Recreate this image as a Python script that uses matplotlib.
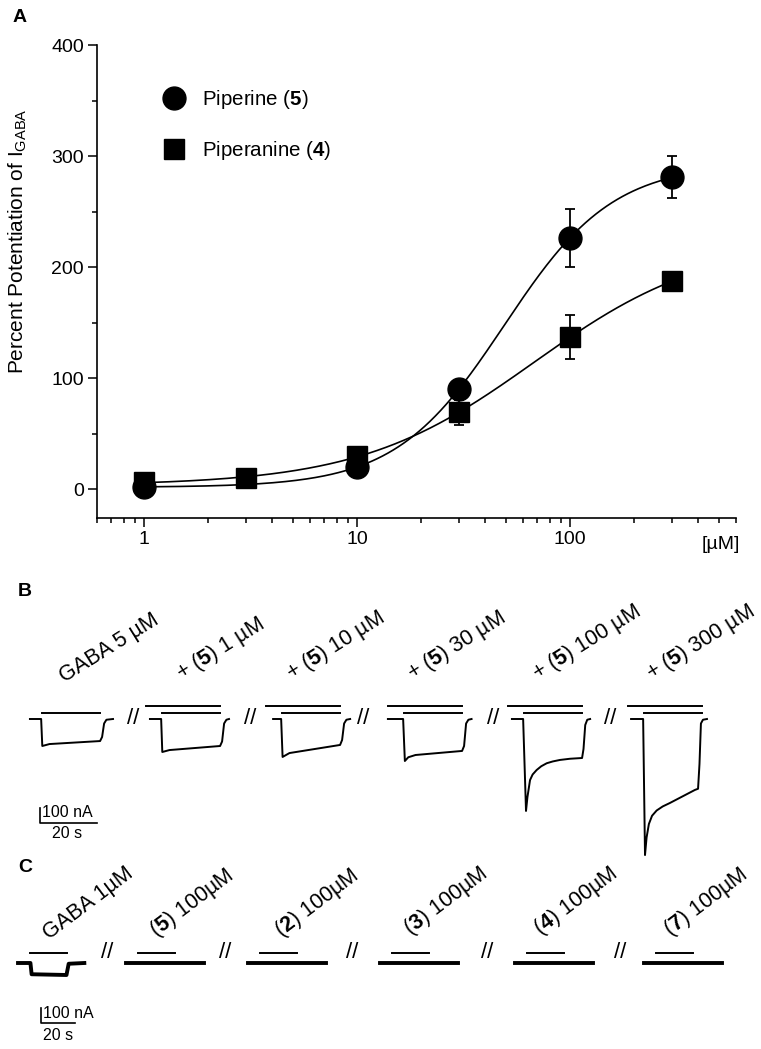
import numpy as np
import matplotlib.pyplot as plt
from matplotlib.lines import Line2D

plt.rcParams['font.family'] = ['Liberation Sans', 'DejaVu Sans']
plt.rcParams['mathtext.fontset'] = 'custom'
plt.rcParams['mathtext.rm'] = 'Liberation Sans'
plt.rcParams['mathtext.bf'] = 'Liberation Sans:bold'
plt.rcParams['mathtext.it'] = 'Liberation Sans:italic'

W, H = 761, 1049

# ---- panel A: concentration-response ----
conc_pip = [1, 10, 30, 100, 300]
pip_mean = [2, 20, 90, 226, 281]
pip_sem = [0, 0, 0, 26, 19]
conc_ppa = [1, 3, 10, 30, 100, 300]
ppa_mean = [6, 10, 30, 69, 137, 187]
ppa_sem = [0, 0, 3, 11, 20, 7]

# ---- panel B: traces (t in s from GABA onset, I in nA from baseline) ----
b_labels = ['GABA 5 µM', r'+ ($\mathbf{5}$) 1 µM', r'+ ($\mathbf{5}$) 10 µM',
            r'+ ($\mathbf{5}$) 30 µM', r'+ ($\mathbf{5}$) 100 µM', r'+ ($\mathbf{5}$) 300 µM']
b_t = [
    [-4.2, -0.3, 0.1, 2.6, 20.2, 20.9, 21.6, 22.4, 24.7],
    [-4.2, -0.3, 0.1, 2.6, 20.2, 20.9, 21.6, 22.4, 23.3],
    [-3.1, -0.3, 0.2, 2.6, 20.2, 20.9, 21.6, 22.4, 23.7],
    [-5.6, -0.3, 0.3, 1.5, 4.0, 20.2, 20.9, 21.6, 22.4, 23.5],
    [-4.2, -0.3, 0.7, 1.2, 2.1, 3.0, 4.4, 6.0, 7.9, 10, 12.5, 16, 20.2, 20.7, 21.3, 22.0, 23.0],
    [-4.5, -0.3, 0.35, 0.9, 1.7, 2.8, 4.4, 6.5, 9.0, 13, 17.7, 18.8, 19.3, 19.8, 20.5, 21.9],
]
b_i = [
    [0, 0, -180, -167, -147, -120, -30, -5, 0],
    [0, 0, -220, -207, -180, -150, -30, -5, 0],
    [0, 0, -253, -227, -173, -140, -30, -5, 0],
    [0, 0, -280, -255, -240, -213, -180, -30, -5, 0],
    [0, 0, -613, -520, -407, -370, -340, -315, -295, -283, -273, -265, -260, -200, -40, -5, 0],
    [0, 0, -907, -790, -700, -645, -610, -583, -560, -520, -473, -465, -300, -30, -5, 0],
]
gaba_dur_b = 20.2
preapp_b = 5.6

# ---- panel C ----
c_labels = ['GABA 1µM', r'($\mathbf{5}$) 100µM', r'($\mathbf{2}$) 100µM',
            r'($\mathbf{3}$) 100µM', r'($\mathbf{4}$) 100µM', r'($\mathbf{7}$) 100µM']
c_t = [[-7, 0.3, 1.0, 21.5, 22.8, 32]] + [[-7, 39]] * 5
c_i = [[0, 0, -75, -80, -5, 0]] + [[0, 0]] * 5
app_dur_c = 22


def hill_fit(x, y):
    x = np.asarray(x, float)
    y = np.asarray(y, float)
    best = (np.inf, None)
    for ec in np.logspace(0.5, 2.7, 221):
        for n in np.arange(0.6, 3.01, 0.02):
            f = 1 / (1 + (ec / x) ** n)
            A = np.column_stack([1 - f, f])
            coef = np.linalg.lstsq(A, y, rcond=None)[0]
            r = np.sum((A @ coef - y) ** 2)
            if r < best[0]:
                best = (r, (coef[0], coef[1], ec, n))
    return best[1]


def hill(x, p):
    bot, top, ec, n = p
    return bot + (top - bot) / (1 + (ec / x) ** n)


fig = plt.figure(figsize=(W / 100, H / 100), dpi=100)


def ftext(x, y, s, **kw):
    fig.text(x / W, 1 - y / H, s, **kw)


# panel A
ax = fig.add_axes([97 / W, 1 - 518 / H, (736 - 97) / W, (518 - 45) / H])
xs = np.logspace(0, np.log10(300), 300)
ax.plot(xs, hill(xs, hill_fit(conc_pip, pip_mean)), color='k', lw=1.2, zorder=2)
ax.plot(xs, hill(xs, hill_fit(conc_ppa, ppa_mean)), color='k', lw=1.2, zorder=2)
ax.errorbar(conc_pip, pip_mean, yerr=pip_sem, fmt='none', ecolor='k', elinewidth=1.3,
            capsize=3.5, capthick=1.3, zorder=3)
ax.errorbar(conc_ppa, ppa_mean, yerr=ppa_sem, fmt='none', ecolor='k', elinewidth=1.3,
            capsize=3.5, capthick=1.3, zorder=3)
ax.plot(conc_ppa, ppa_mean, 's', color='k', ms=14.5, zorder=4)
ax.plot(conc_pip, pip_mean, 'o', color='k', ms=16.5, zorder=5)
ax.set_xscale('log')
ax.set_xlim(0.6, 600)
ax.set_ylim(-26.1, 400)
ax.set_yticks([0, 100, 200, 300, 400])
ax.set_yticks([50, 150, 250, 350], minor=True)
ax.set_xticks([1, 10, 100])
ax.set_xticklabels(['1', '10', '100'])
for s in ['top', 'right']:
    ax.spines[s].set_visible(False)
for s in ['left', 'bottom']:
    ax.spines[s].set_linewidth(1.2)
ax.tick_params(which='major', length=6.5, width=1.1, labelsize=14, direction='out', pad=3)
ax.tick_params(which='minor', length=3.5, width=1.1, direction='out')
ax.set_ylabel(r'Percent Potentiation of I$_{\mathrm{GABA}}$', fontsize=15)
ax.yaxis.set_label_coords(-0.106, 0.586)
ax.text(0.977, -0.055, '[µM]', transform=ax.transAxes, ha='center', va='center', fontsize=14)
handles = [Line2D([], [], ls='none', marker='o', color='k', ms=16.5),
           Line2D([], [], ls='none', marker='s', color='k', ms=14.5)]
ax.legend(handles, [r'Piperine ($\mathbf{5}$)', r'Piperanine ($\mathbf{4}$)'],
          loc='upper left', bbox_to_anchor=(0.101, 0.909), frameon=False, fontsize=14.8,
          handlelength=1.2, handletextpad=0.76, labelspacing=1.35, borderpad=0, borderaxespad=0)

# panel B
pxs_b, px_na = 2.875, 0.15
b_onset = [14.61, 56.35, 98.09, 140.52, 182.26, 224.0]
axb = fig.add_axes([0, 1 - 870 / H, 1, 190 / H])
axb.set_xlim(0, W / pxs_b)
axb.set_ylim(-(870 - 719) / px_na, (719 - 680) / px_na)
axb.axis('off')
for k, on in enumerate(b_onset):
    axb.plot(on + np.array(b_t[k]), b_i[k], color='k', lw=1.4, solid_joinstyle='round')
    if k == 0:
        axb.plot([on, on + gaba_dur_b], [40, 40], color='k', lw=1.4)
    else:
        axb.plot([on - preapp_b, on + gaba_dur_b], [87, 87], color='k', lw=1.4)
        axb.plot([on, on + gaba_dur_b], [37, 37], color='k', lw=1.4)
sx, sy = 13.9, -693
axb.plot([sx, sx, sx + 20], [sy + 100, sy, sy], color='k', lw=1.2)
axb.text(sx + 0.7, sy + 67, '100 nA', ha='left', va='center', fontsize=11.5)
axb.text(sx + 9.4, sy - 67, '20 s', ha='center', va='center', fontsize=11.5)

b_lab_xy = [(64, 683), (181, 680), (291, 680), (412, 680), (537, 680), (651, 680)]
for (x, y), s in zip(b_lab_xy, b_labels):
    ftext(x, y, s, rotation=32, rotation_mode='anchor', ha='left', va='baseline', fontsize=15.5)
for x in [133, 250, 363, 493, 610]:
    ftext(x, 719, '//', ha='center', va='center', fontsize=16)

# panel C
pxs_c = 1.7
c_onset = [17.6, 81.2, 152.9, 230.6, 310.0, 385.9]
axc = fig.add_axes([0, 0, 1, 124 / H])
axc.set_xlim(0, W / pxs_c)
axc.set_ylim(-(1049 - 963) / px_na, (963 - 925) / px_na)
axc.axis('off')
for k, on in enumerate(c_onset):
    axc.plot(on + np.array(c_t[k]), c_i[k], color='k', lw=2.8, solid_joinstyle='round')
    axc.plot([on, on + app_dur_c], [67, 67], color='k', lw=1.4)
sx, sy = 24.1, -400
axc.plot([sx, sx, sx + 20], [sy + 100, sy, sy], color='k', lw=1.2)
axc.text(sx + 1.2, sy + 60, '100 nA', ha='left', va='center', fontsize=11.5)
axc.text(sx + 10, sy - 80, '20 s', ha='center', va='center', fontsize=11.5)

c_lab_xy = [(49, 940), (156, 937), (281, 937), (410, 935), (540, 935), (670, 936)]
for (x, y), s in zip(c_lab_xy, c_labels):
    ftext(x, y, s, rotation=37, rotation_mode='anchor', ha='left', va='baseline', fontsize=15.5)
for x in [107, 225, 352, 487, 620]:
    ftext(x, 953, '//', ha='center', va='center', fontsize=16)

ftext(20, 18, 'A', ha='center', va='center', fontsize=14, fontweight='bold')
ftext(25, 592, 'B', ha='center', va='center', fontsize=14, fontweight='bold')
ftext(25, 867, 'C', ha='center', va='center', fontsize=14, fontweight='bold')

fig.savefig('out.png', dpi=100)
